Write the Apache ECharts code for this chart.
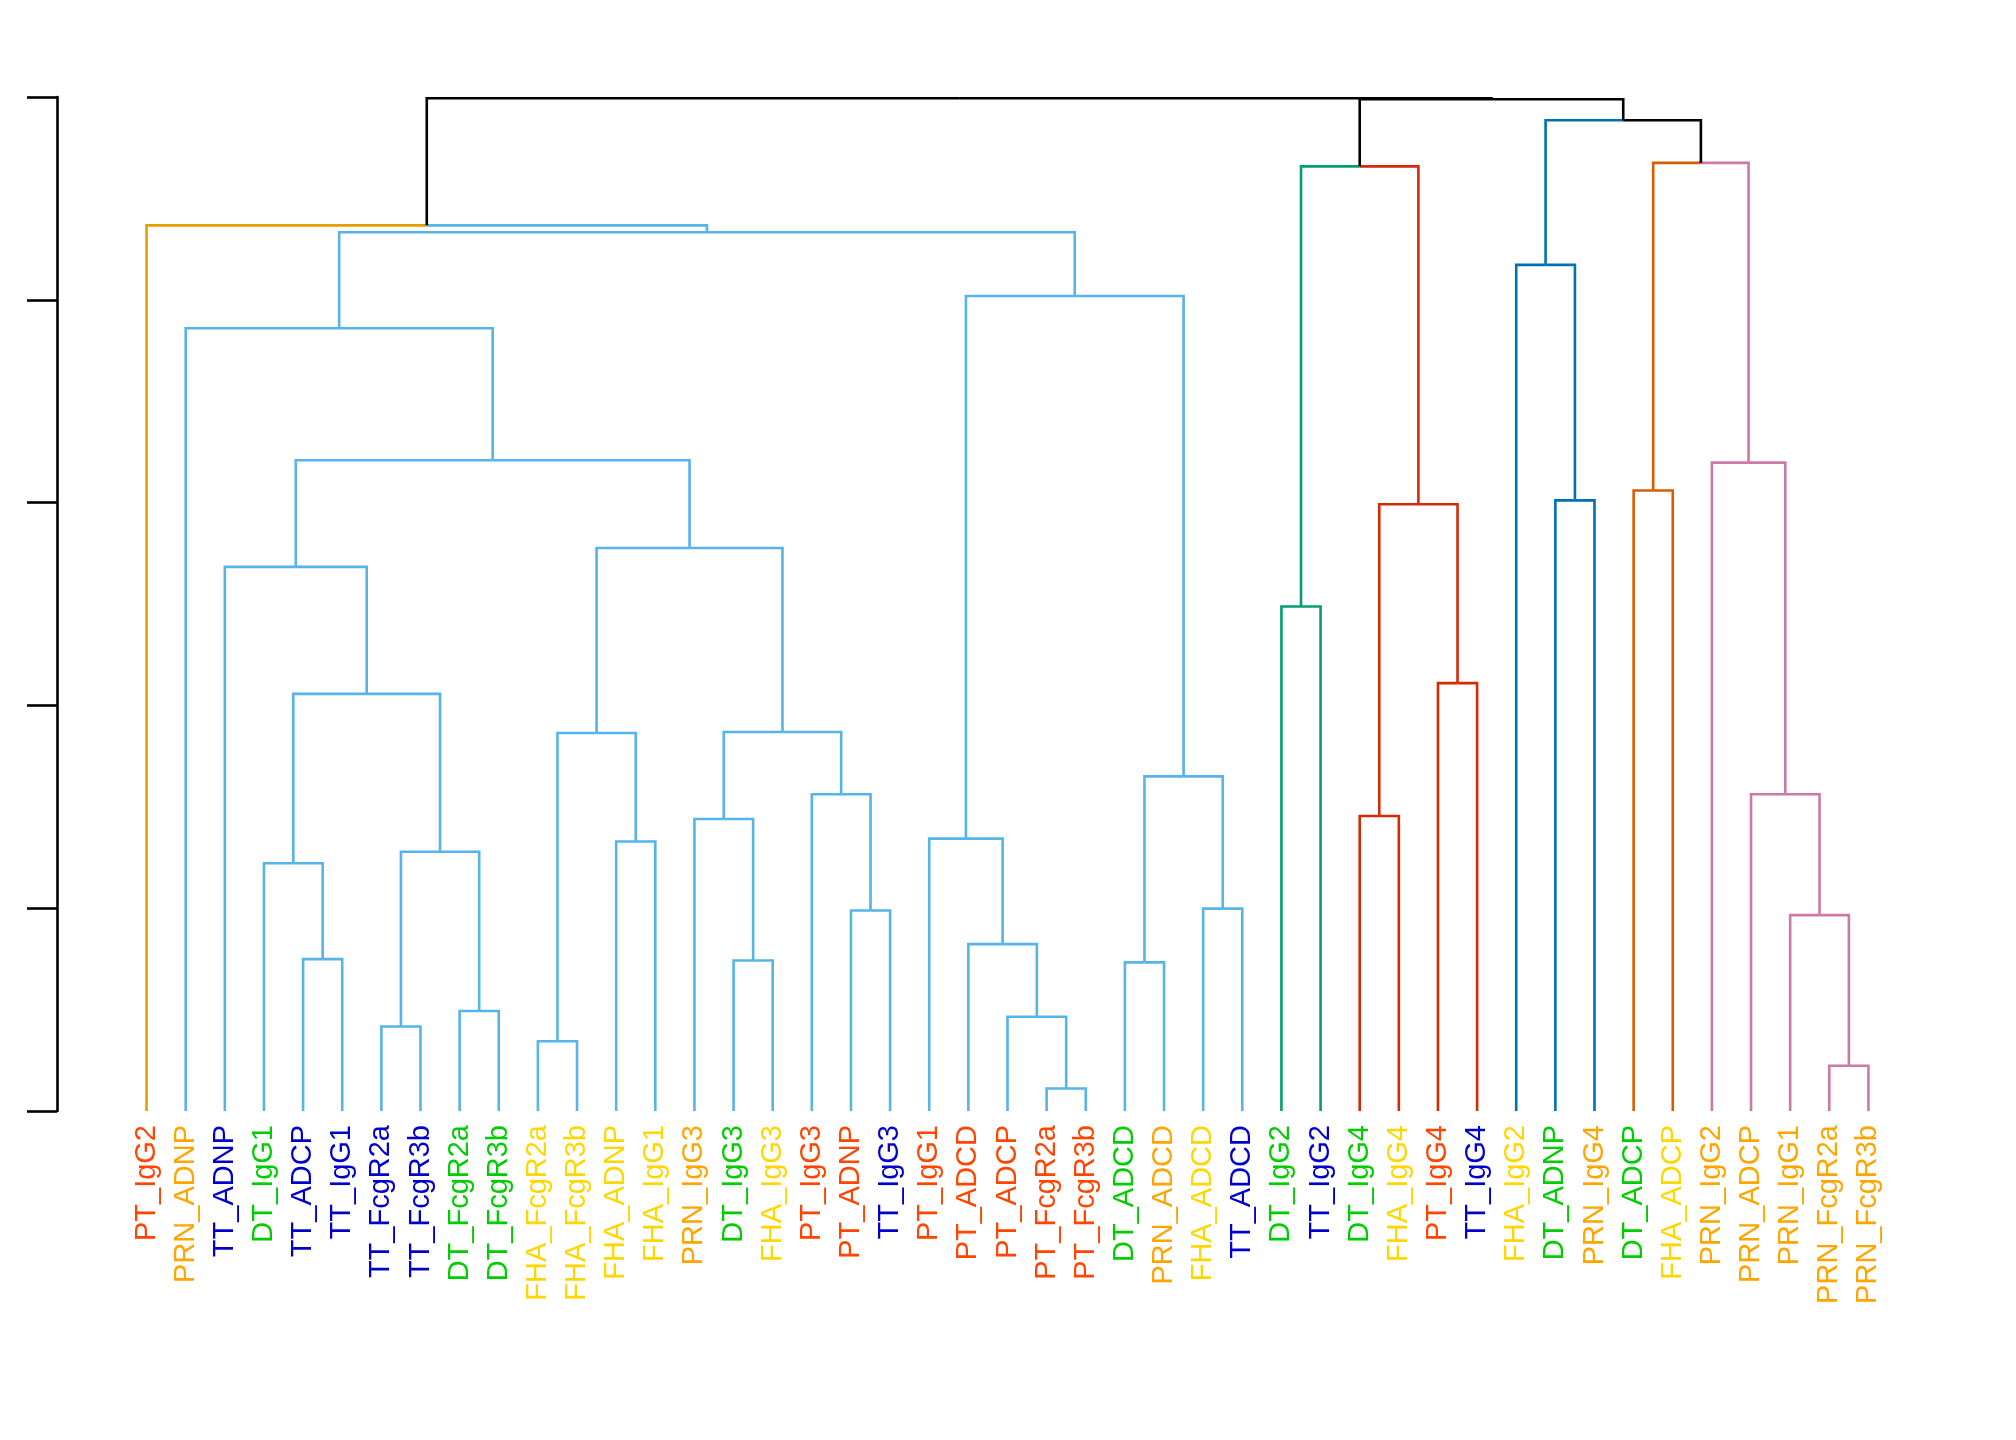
<!DOCTYPE html>
<html>
<head>
<meta charset="utf-8">
<script src="https://cdn.jsdelivr.net/npm/echarts@6/dist/echarts.min.js"></script>
<style>
  html, body { margin: 0; padding: 0; background: #ffffff; }
  #chart { width: 2016px; height: 1440px; }
</style>
</head>
<body>
<div id="chart"></div>
<script>
// Leaf order (left to right)
const leaves = [
  'PT_IgG2','PRN_ADNP','TT_ADNP','DT_IgG1','TT_ADCP','TT_IgG1','TT_FcgR2a','TT_FcgR3b',
  'DT_FcgR2a','DT_FcgR3b','FHA_FcgR2a','FHA_FcgR3b','FHA_ADNP','FHA_IgG1','PRN_IgG3',
  'DT_IgG3','FHA_IgG3','PT_IgG3','PT_ADNP','TT_IgG3','PT_IgG1','PT_ADCD','PT_ADCP',
  'PT_FcgR2a','PT_FcgR3b','DT_ADCD','PRN_ADCD','FHA_ADCD','TT_ADCD','DT_IgG2','TT_IgG2',
  'DT_IgG4','FHA_IgG4','PT_IgG4','TT_IgG4','FHA_IgG2','DT_ADNP','PRN_IgG4','DT_ADCP',
  'FHA_ADCP','PRN_IgG2','PRN_ADCP','PRN_IgG1','PRN_FcgR2a','PRN_FcgR3b'
];
// Cluster membership of each leaf (index into clusterColors)
const leafCluster = [
  0,1,1,1,1,1,1,1,1,1,1,1,1,1,1,1,1,1,1,1,1,1,1,1,1,1,1,1,1,
  2,2,3,3,3,3,4,4,4,5,5,6,6,6,6,6
];
const clusterColors = ['#E69F00','#56B4E9','#009E73','#D42A06','#0072B2','#D55E00','#CC79A7'];
const antigenColors = { PT: '#FF4500', PRN: '#FFA500', TT: '#0000CD', DT: '#00CD00', FHA: '#FFD700' };

// Merges (bottom-up). Strings = leaves, numbers = earlier merge index.
const mergeLeft = [
  'PT_FcgR2a','PRN_FcgR2a','FHA_FcgR2a','TT_FcgR2a','PT_ADCP','DT_FcgR2a','DT_ADCD','DT_IgG3',
  'TT_ADCP','PT_ADCD','PRN_IgG1','PT_ADNP','FHA_ADCD','DT_IgG1',3,'FHA_ADNP','PT_IgG1',
  'PRN_IgG3','DT_IgG4','PT_IgG3','PRN_ADCP',6,2,17,13,'PT_IgG4','DT_IgG2','TT_ADNP',22,18,
  'DT_ADNP','DT_ADCP','PRN_IgG2',27,'PRN_ADNP',16,'FHA_IgG2',34,'PT_IgG2',26,31,36,39,38
];
const mergeRight = [
  'PT_FcgR3b','PRN_FcgR3b','FHA_FcgR3b','TT_FcgR3b',0,'DT_FcgR3b','PRN_ADCD','FHA_IgG3',
  'TT_IgG1',4,1,'TT_IgG3','TT_ADCD',8,5,'FHA_IgG1',9,
  7,'FHA_IgG4',11,10,12,15,19,14,'TT_IgG4','TT_IgG2',24,23,25,
  'PRN_IgG4','FHA_ADCP',20,28,33,21,30,35,37,29,32,40,41,42
];
const mergeHeight = [
  0.111,0.223,0.344,0.417,0.465,0.493,0.733,0.742,
  0.749,0.823,0.966,0.989,0.998,1.222,1.278,1.329,1.343,
  1.440,1.455,1.562,1.562,1.650,1.864,1.869,2.057,2.110,2.488,2.683,2.776,2.992,
  3.011,3.060,3.197,3.209,3.860,4.019,4.172,4.333,4.367,4.658,4.675,4.885,4.989,4.994
];

// Build node geometry from the data
const nodes = [];
function info(ref) {
  if (typeof ref === 'string') {
    const i = leaves.indexOf(ref);
    return { x: i, h: 0, c: leafCluster[i] };
  }
  return nodes[ref];
}
const segData = [];
for (let k = 0; k < mergeHeight.length; k++) {
  const L = info(mergeLeft[k]);
  const R = info(mergeRight[k]);
  const h = mergeHeight[k];
  const x = (L.x + R.x) / 2;
  const c = (L.c === R.c) ? L.c : -1;
  nodes.push({ x: x, h: h, c: c });
  segData.push([L.x, L.h, R.x, R.h, h, L.c, R.c]);
}

const chart = echarts.init(document.getElementById('chart'), null, { renderer: 'canvas' });

function colorOf(idx) { return idx < 0 ? '#000000' : clusterColors[idx]; }

const option = {
  backgroundColor: '#ffffff',
  animation: false,
  grid: { left: 127, right: 128, top: 97, bottom: 329, containLabel: false },
  xAxis: [
    {
      type: 'category',
      data: leaves.map(function (n) {
        return { value: n, textStyle: { color: antigenColors[n.split('_')[0]] } };
      }),
      boundaryGap: true,
      axisLine: { show: false },
      axisTick: { show: false },
      axisLabel: {
        interval: 0, rotate: 90, margin: 14, fontSize: 29,
        fontFamily: 'Liberation Sans, Arial, sans-serif'
      },
      splitLine: { show: false }
    },
    {
      type: 'value', min: -0.5, max: leaves.length - 0.5, show: false
    }
  ],
  yAxis: {
    type: 'value', min: 0, max: 5, interval: 1, offset: 70, position: 'left',
    axisLine: { show: true, onZero: false, lineStyle: { color: '#000', width: 2.6 } },
    axisTick: { show: true, length: 30, inside: false, lineStyle: { color: '#000', width: 2.6 } },
    axisLabel: { show: false },
    splitLine: { show: false }
  },
  series: [{
    type: 'custom',
    xAxisIndex: 1,
    yAxisIndex: 0,
    silent: true,
    clip: false,
    data: segData,
    encode: { x: [0, 2], y: [1, 3, 4] },
    renderItem: function (params, api) {
      const xL = api.value(0), hL = api.value(1), xR = api.value(2), hR = api.value(3), h = api.value(4);
      const cL = colorOf(api.value(5)), cR = colorOf(api.value(6));
      const xm = (xL + xR) / 2;
      const pL0 = api.coord([xL, hL]), pL1 = api.coord([xL, h]), pM = api.coord([xm, h]);
      const pR1 = api.coord([xR, h]), pR0 = api.coord([xR, hR]);
      return {
        type: 'group',
        children: [
          { type: 'polyline', shape: { points: [pL0, pL1, pM] },
            style: { stroke: cL, lineWidth: 2.6, fill: null, lineJoin: 'miter', lineCap: 'butt' } },
          { type: 'polyline', shape: { points: [pM, pR1, pR0] },
            style: { stroke: cR, lineWidth: 2.6, fill: null, lineJoin: 'miter', lineCap: 'butt' } }
        ]
      };
    }
  }]
};
chart.setOption(option);
</script>
</body>
</html>
